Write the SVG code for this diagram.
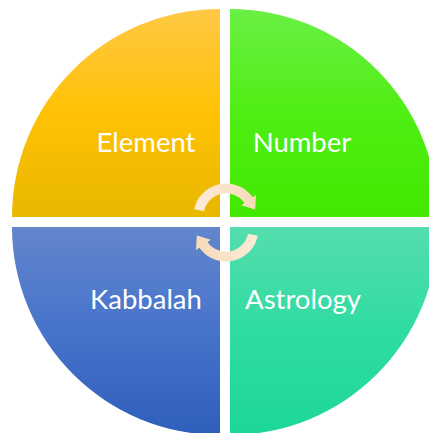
<svg xmlns="http://www.w3.org/2000/svg" width="429" height="433" viewBox="0 0 429 433">
<defs>
<linearGradient id="gY" x1="0" y1="0" x2="0" y2="1"><stop offset="0" stop-color="#FFC845"/><stop offset="0.5" stop-color="#FFC205"/><stop offset="1" stop-color="#E8B700"/></linearGradient>
<linearGradient id="gG" x1="0" y1="0" x2="0" y2="1"><stop offset="0" stop-color="#6AF045"/><stop offset="0.5" stop-color="#50EE14"/><stop offset="1" stop-color="#43E800"/></linearGradient>
<linearGradient id="gB" x1="0" y1="0" x2="0" y2="1"><stop offset="0" stop-color="#6386CC"/><stop offset="0.5" stop-color="#4673CB"/><stop offset="1" stop-color="#2F5EBB"/></linearGradient>
<linearGradient id="gT" x1="0" y1="0" x2="0" y2="1"><stop offset="0" stop-color="#55DDAE"/><stop offset="0.5" stop-color="#2FDCA1"/><stop offset="1" stop-color="#1DD69A"/></linearGradient>
<linearGradient id="gA" gradientUnits="userSpaceOnUse" x1="194" y1="0" x2="256" y2="0"><stop offset="0" stop-color="#FBEBD8"/><stop offset="1" stop-color="#F7DBB8"/></linearGradient>
<path id="arr" d="M194.2,209.3 A32.5,32.5 0 0 1 252.6,197.3 L256,194.9 L255.2,209.6 L241.2,205.3 L244.5,203 A22.5,22.5 0 0 0 204,211.3 Z"/>
</defs>
<style>
.lbl{font-family:Lato,"Liberation Sans",sans-serif;font-size:27.5px;fill:#FFFFFF;text-anchor:middle}
</style>
<rect width="429" height="433" fill="#FFFFFF"/>
<g id="element"><path d="M220,217 L12,217 A208,208 0 0 1 220,9 Z" fill="url(#gY)"/><text class="lbl" x="146" y="152">Element</text></g>
<g id="number"><path d="M230,217 L230,9 A208,208 0 0 1 438,217 Z" fill="url(#gG)"/><text class="lbl" x="302" y="152">Number</text></g>
<g id="kabbalah"><path d="M220,227 L220,435 A208,208 0 0 1 12,227 Z" fill="url(#gB)"/><text class="lbl" x="146" y="309">Kabbalah</text></g>
<g id="astrology"><path d="M230,227 L438,227 A208,208 0 0 1 230,435 Z" fill="url(#gT)"/><text class="lbl" x="303" y="309">Astrology</text></g>
<g id="connectors">
<use href="#arr" fill="url(#gA)"/>
<use href="#arr" fill="url(#gA)" transform="rotate(180 226 222.5)"/>
</g>
</svg>
